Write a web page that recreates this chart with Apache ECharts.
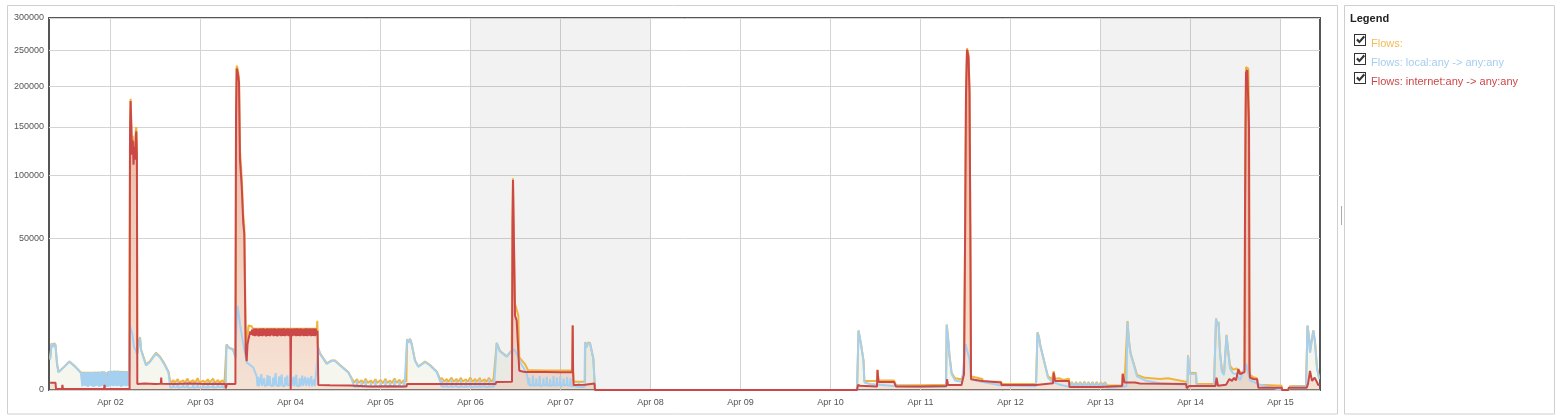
<!DOCTYPE html>
<html>
<head>
<meta charset="utf-8">
<script src="https://cdn.jsdelivr.net/npm/echarts@6/dist/echarts.min.js"></script>
<style>
html,body{margin:0;padding:0;background:#fff;}
#chart{width:1561px;height:420px;}
</style>
</head>
<body>
<div id="chart"></div>
<script>
// ---- data (x = hours since Apr 01 00:00, value = flows) ----
const seriesNames = ['Flows:', 'Flows: local:any -> any:any', 'Flows: internet:any -> any:any'];
const yTickValues = [0, 50000, 100000, 150000, 200000, 250000, 300000];
const dayTickHours = [24, 48, 72, 96, 120, 144, 168, 192, 216, 240, 264, 288, 312, 336];
const weekendRanges = [[120, 168], [288, 336]];
const xRange = [7.6, 346.53];

const internetData = [
[7.9,117],[9.33,117],[9.47,2],[11.07,2],[11.17,55],[11.33,2],[22.27,2],[22.4,60],[22.53,2],[29.09,2],
[29.2,140000],[29.36,181000],[29.55,150000],[29.73,120000],[29.95,135000],[30.13,110000],[30.35,128000],[30.53,115000],[30.75,140000],[30.88,145000],[31.04,118000],[31.15,80],
[33.2,90],[35.87,75],[37.41,85],[37.52,330],[37.63,85],[41.2,80],[45.2,90],[49.2,80],[53.2,85],[54.61,80],[54.75,5],[55.01,79],[57.31,79],
[57.47,160000],[57.65,224000],[57.87,220000],[58.08,222000],[58.27,205000],[58.53,115000],[58.99,90000],[59.41,60000],[59.68,53000],[59.87,20000],[60.05,3300],[60.32,1800],[60.53,4500],[60.8,5600],
[61,6000],[61.25,7400],[61.5,6600],[61.75,7900],[62,6400],[62.25,8150],[62.5,6300],[62.75,8200],[63,6400],[63.25,8100],[63.5,6250],[63.75,8200],[64,6350],[64.25,8150],[64.5,6300],[64.75,8250],[65,6400],[65.25,8100],[65.5,6250],[65.75,8200],[66,6350],[66.25,8150],[66.5,6300],[66.75,8200],[67,6450],[67.25,8150],[67.5,6300],[67.75,8250],[68,6350],[68.25,8100],[68.5,6250],[68.75,8200],[69,6400],[69.25,8150],[69.5,6300],[69.75,8200],[70,6350],[70.25,8250],[70.5,6300],[70.75,8100],[71,6400],[71.25,8200],[71.5,6300],[71.75,8150],[71.95,7000],[72.05,0],[72.15,7000],[72.25,8200],[72.5,6300],[72.75,8150],[73,6400],[73.25,8200],[73.5,6300],[73.75,8250],[74,6350],[74.25,8150],[74.5,6300],[74.75,8200],[75,6400],[75.25,8100],[75.5,6300],[75.75,8200],[76,6350],[76.25,8250],[76.5,6300],[76.75,8150],[77,6400],[77.25,8200],[77.5,6300],[77.75,8150],[78,6350],[78.25,8200],[78.5,6300],[78.75,8150],[79,6500],[79.2,7600],
[79.41,55],[82.53,50],[87.87,45],[93.2,28],[98.53,30],[102.93,25],[103.07,79],[109.2,75],[117.2,79],[126.67,75],[126.88,140],[131.07,150],
[131.2,60000],[131.33,95700],[131.73,95000],[131.87,12000],[132.32,10400],[132.75,10000],[133.01,800],[134.53,710],[139.87,700],[143.87,690],[147.15,700],[147.25,9000],[147.36,700],[147.49,55],[150.53,60],[150.67,90],[153.07,90],[153.2,0],
[223.07,0],[223.33,55],[223.87,40],[228.4,25],[228.53,860],[228.8,140],[232.93,140],[233.47,25],[240.05,25],[240.29,35],[246.93,35],[247.07,250],[247.33,55],[250.93,55],[251.6,540],
[251.87,44000],[252.13,190000],[252.4,251000],[252.8,240000],[253.07,192000],[253.28,60000],[253.47,250],[256.53,177],[256.67,120],[261.47,120],[261.6,55],[270.8,55],[271.07,100],[275.33,100],[275.52,656],[275.87,177],[279.6,177],[279.73,20],[287.81,20],[287.95,35],[293.79,35],[293.92,560],[294.4,120],[297.2,120],[298.53,90],[310.8,80],[310.99,7],[311.33,10],[311.6,35],[318.67,35],[318.93,330],[319.33,40],[321.47,60],[322.37,265],[323.07,180],[323.6,320],[324.13,200],[324.75,940],[325.2,550],[325.73,450],[326.4,700],
[326.53,65000],[326.67,150000],[326.8,218000],[327.15,222000],[327.41,220000],[327.6,150000],[327.73,800],[327.87,330],[328.75,265],[329.73,250],[330.08,12],[336.32,12],[336.4,0],[338.08,0],[338.19,12],[342.99,12],[343.33,80],[343.87,790],[344.4,180],[345.12,330],[346.08,55],[346.5,55]
];

const localData = [
[7.9,2000],[8.3,4600],[8.7,4000],[8.97,4700],[9.33,4300],[9.73,1500],[10.11,680],[11.6,1150],[13.04,1750],[14.53,1200],[16.08,660],
[16.5,30],[16.75,650],[17,40],[17.25,680],[17.5,30],[17.75,690],[18,20],[18.25,670],[18.5,40],[18.75,700],[19,30],[19.25,690],[19.5,20],[19.75,710],[20,30],[20.25,680],[20.5,40],[20.75,720],[21,20],[21.25,700],[21.5,30],[21.75,760],[22,40],[22.25,740],[22.5,30],[22.75,700],[23,20],[23.15,120],[23.3,20],[23.5,780],[23.75,30],[24,800],[24.25,40],[24.5,770],[24.75,30],[25,820],[25.25,40],[25.5,760],[25.75,30],[26,790],[26.25,40],[26.5,750],[26.75,20],[27,760],[27.25,30],[27.5,740],[27.75,40],[28,750],[28.25,30],[28.5,730],[28.75,40],[29,720],
[29.2,9000],[29.47,8000],[29.87,6500],[30.27,4000],[30.67,3500],[31.07,2800],[31.33,3800],[31.87,6000],[32.13,3500],[33.47,1300],[34.53,1700],[36.13,2900],[37.2,2300],[38.27,1500],[39.47,660],[39.87,40],
[40,10],[40.6,20],[40.75,130],[40.9,15],[41.8,20],[41.95,160],[42.1,10],[43.2,20],[43.35,110],[43.5,15],[44.4,20],[44.55,170],[44.7,10],[45.9,15],[46.05,120],[46.2,10],[47.1,20],[47.25,150],[47.4,15],[48.6,10],[48.75,100],[48.9,20],[49.8,10],[49.95,140],[50.1,15],[51.2,20],[51.35,160],[51.5,10],[52.5,20],[52.65,120],[52.8,15],[53.7,20],[53.85,110],[54,10],[54.75,20],
[54.93,4400],[55.6,3800],[56.67,3500],[57.33,2300],[57.6,10000],[57.87,15400],[58.13,13000],[58.53,9400],[59.41,4600],[60.32,1650],[60.75,1840],[62.08,1100],[62.99,400],
[63.2,30],[63.4,380],[63.6,30],[64.1,40],[64.25,550],[64.4,40],[64.9,30],[65,300],[65.15,30],[65.7,60],[65.85,480],[66,40],[66.3,30],[66.45,420],[66.6,50],[67.2,30],[67.35,330],[67.5,30],[67.9,40],[68.05,620],[68.2,50],[68.8,30],[68.95,400],[69.1,30],[69.5,60],[69.65,520],[69.8,40],[70.4,30],[70.55,350],[70.7,40],[71,30],[71.15,460],[71.3,40],[71.9,60],[72.05,580],[72.2,30],[72.7,40],[72.85,380],[73,30],[73.4,60],[73.55,500],[73.7,40],[74.3,30],[74.45,300],[74.6,30],[75,50],[75.15,450],[75.3,40],[75.8,30],[75.95,380],[76.1,40],[76.6,60],[76.75,320],[76.9,30],[77.4,40],[77.55,420],[77.7,30],[78.2,50],[78.35,260],[78.5,30],[79,30],
[79.41,3900],[79.87,2800],[81.65,1480],[83.01,1840],[83.87,1840],[85.2,1300],[87.41,660],[88.32,250],
[89,20],[89.6,25],[89.75,200],[89.9,20],[90.8,30],[90.95,150],[91.1,20],[91.9,25],[92.05,220],[92.2,20],[93.3,30],[93.45,130],[93.6,20],[94.5,20],[94.65,190],[94.8,25],[95.9,20],[96.05,160],[96.2,20],[97.2,30],[97.35,210],[97.5,20],[98.4,20],[98.55,140],[98.7,25],[99.6,20],[99.75,230],[99.9,20],[100.9,30],[101.05,170],[101.2,20],[102.1,20],[102.25,150],[102.4,20],[102.93,30],
[103.07,5500],[103.47,4800],[103.87,5600],[104.27,4700],[105.2,1840],[106.08,1160],[107.87,1700],[109.2,1300],[110.99,700],[111.87,180],
[112.3,20],[112.45,220],[112.6,20],[113.5,30],[113.65,170],[113.8,20],[114.8,25],[114.95,260],[115.1,20],[116.1,30],[116.25,190],[116.4,20],[117.3,20],[117.45,240],[117.6,25],[118.6,20],[118.75,160],[118.9,20],[119.8,30],[119.95,250],[120.1,20],[121.1,20],[121.25,180],[121.4,25],[122.3,20],[122.45,230],[122.6,20],[123.6,30],[123.75,170],[123.9,20],[124.8,20],[124.95,250],[125.1,25],[126,20],[126.15,190],[126.3,20],[126.8,30],
[126.99,4700],[127.87,3200],[129.65,2390],[130.99,3300],[131.6,3600],[132.32,2840],[133.47,1500],[134.99,600],
[135.5,50],[135.65,320],[135.8,40],[136.5,60],[136.65,450],[136.8,40],[137.4,50],[137.55,280],[137.7,40],[138.3,60],[138.45,420],[138.6,30],[139.3,50],[139.45,300],[139.6,40],[140.2,60],[140.35,380],[140.5,40],[141.1,50],[141.25,260],[141.4,30],[142,60],[142.15,430],[142.3,40],[142.9,50],[143.05,330],[143.2,40],[143.8,60],[143.95,400],[144.1,30],[144.7,50],[144.85,280],[145,40],[145.6,60],[145.75,360],[145.9,40],[146.5,50],[146.65,300],[146.8,30],[147.5,40],[148,20],[148.7,20],[148.85,120],[149,20],[150.4,20],
[150.53,4900],[150.93,3900],[151.33,4800],[151.87,4700],[152.75,2100],[153.07,2000],[153.2,0],[223.07,0],
[223.47,7600],[223.81,7800],[224.13,4500],[224.48,4800],[224.8,1800],[225.04,120],[226.53,80],[229.2,60],[231.87,40],[239.87,20],[246.8,20],
[246.99,9200],[247.33,6000],[247.73,2500],[248.29,560],[249.2,200],[251.07,150],[252,4600],[253.07,2000],[253.47,300],[254.53,200],[261.2,50],[270.8,30],[271.07,30],
[271.2,7100],[271.6,6000],[271.87,4500],[272.93,1840],[274,320],[275.07,150],[277.2,60],[279.87,20],
[280.4,120],[280.9,10],[281.5,120],[282,10],[282.6,120],[283.1,10],[283.7,130],[284.2,10],[284.8,120],[285.3,10],[285.9,120],[286.4,10],[287,120],[287.5,10],[288.1,110],[288.6,10],[289.2,110],[289.7,10],
[293.2,20],[294.93,30],[295.2,10100],[295.6,5000],[296,2900],[296.4,2800],[296.93,1300],[297.73,400],[299.87,200],[303.87,100],[310.53,60],[311.2,60],[311.33,2500],[311.73,560],[313.47,560],[313.6,50],[318.27,40],
[318.8,11000],[319.2,9000],[319.47,10000],[319.87,3000],[320.4,700],[320.93,500],[321.6,6500],[322,3500],[322.53,1000],[323.33,600],[324.32,560],[325.2,200],[326.8,1500],[327.87,200],[330.53,60],[336.4,0],[338,0],[338.53,20],[342.8,30],
[343.2,8975],[343.6,6000],[343.87,3000],[344.27,5000],[344.75,7600],[345.2,5000],[345.73,1000],[346.27,300],[346.5,300]
];

const flowsData = [
[7.9,2100],[8.3,4700],[8.7,4100],[8.97,4800],[9.33,4400],[9.73,1550],[10.11,700],[11.6,1160],[13.04,1760],[14.53,1210],[16.08,660],[16.5,620],[20,640],[22.5,660],[23,120],[23.4,700],[26,720],[29,680],
[29.2,145000],[29.36,184000],[29.55,155000],[29.73,125000],[29.95,140000],[30.13,118000],[30.35,133000],[30.53,122000],[30.75,146000],[30.88,150000],[31.04,125000],[31.15,2900],[31.33,3900],[31.87,6100],[32.13,3600],[33.47,1400],[34.53,1800],[36.13,3000],[37.2,2400],[38.27,1600],[39.47,720],[39.87,200],
[40.3,110],[40.75,220],[41.1,110],[41.95,260],[42.3,120],[43.35,200],[43.8,110],[44.55,280],[45,120],[46.05,210],[46.5,110],[47.25,300],[47.7,120],[48.75,190],[49.2,110],[49.95,250],[50.4,120],[51.35,280],[51.8,110],[52.65,220],[53.1,120],[53.85,200],[54.4,110],[54.75,60],
[54.93,4500],[55.6,3900],[56.67,3600],[57.33,2400],[57.47,165000],[57.65,228000],[57.87,225000],[58.08,226000],[58.27,212000],[58.53,125000],[58.99,98000],[59.41,66000],[59.68,58000],[59.87,26000],[60.05,7000],[60.32,4000],[60.53,6500],[60.8,9000],[61.2,8700],[61.6,8800],[62,8100],[79,8100],
[79.15,10400],[79.3,4000],[79.41,4000],[79.87,2900],[81.65,1550],[83.01,1900],[83.87,1900],[85.2,1350],[87.41,700],[88.32,300],
[89,120],[89.75,260],[90.2,110],[90.95,210],[91.4,100],[92.05,280],[92.6,110],[93.45,190],[93.9,100],[94.65,250],[95.1,110],[96.05,220],[96.6,100],[97.35,270],[97.8,110],[98.55,200],[99,100],[99.75,290],[100.3,110],[101.05,230],[101.5,100],[102.25,210],[102.9,150],
[103.07,5600],[103.47,4900],[103.87,5700],[104.27,4800],[105.2,1900],[106.08,1200],[107.87,1750],[109.2,1350],[110.99,750],[111.87,260],
[112.45,300],[112.9,150],[113.65,260],[114.1,140],[114.95,330],[115.5,150],[116.25,270],[116.7,140],[117.45,320],[117.9,150],[118.75,250],[119.2,140],[119.95,330],[120.5,150],[121.25,260],[121.7,140],[122.45,310],[122.9,150],[123.75,250],[124.2,140],[124.95,320],[125.5,150],[126.15,270],[126.6,200],
[126.99,4800],[127.87,3300],[129.65,2450],[130.99,3400],[131.2,62000],[131.33,97300],[131.73,97000],[131.87,16100],[132.32,14000],[132.75,12000],[133.01,2300],[134.53,1450],[135.4,800],[136,850],[140,820],[144,830],[147.1,820],[147.25,9100],[147.36,800],[147.49,150],[150.53,150],
[150.6,5000],[150.93,4000],[151.33,4900],[151.87,4800],[152.75,2200],[153.07,2100],[153.2,0],[223.07,0],
[223.47,7700],[223.81,7900],[224.13,4600],[224.48,4900],[224.8,1900],[225.04,180],[228.4,180],[228.53,900],[228.8,200],[232.93,200],[233.47,50],[240.05,50],[240.29,60],[246.8,60],
[246.99,9300],[247.33,6100],[247.73,2600],[248.29,650],[249.2,300],[250.93,250],[251.6,600],[251.87,46000],[252.13,195000],[252.4,253000],[252.8,245000],[253.07,196000],[253.28,62000],[253.47,400],[254.53,350],[256.53,260],[256.67,150],[261.47,150],[261.6,80],[270.8,80],[271.07,100],
[271.2,7200],[271.6,6100],[271.87,4600],[272.93,1900],[274,400],[275.07,250],[275.52,760],[275.87,270],[277,300],[278,220],[279.6,280],[279.73,30],
[280.4,140],[280.9,30],[281.5,140],[282,30],[282.6,140],[283.1,30],[283.7,150],[284.2,30],[284.8,140],[285.3,30],[285.9,140],[286.4,30],[287,140],[287.5,30],[288.1,130],[288.6,45],[289.2,130],[289.7,45],[293.79,45],
[293.92,600],[294.4,150],[294.93,150],[295.2,10300],[295.6,5200],[296,3000],[296.4,2900],[296.93,1400],[297.73,500],[299.87,320],[303.87,260],[306,300],[310.8,150],[311.2,80],[311.33,2600],[311.73,620],[313.47,620],[313.6,80],[318.27,80],
[318.8,11100],[319.2,9100],[319.47,10100],[319.87,3100],[320.4,750],[320.93,560],[321.6,6600],[322,3600],[322.53,1300],[323.33,900],[324.32,1000],[324.75,1100],[325.73,600],[326.4,900],
[326.53,70000],[326.67,160000],[326.8,226000],[327.15,228000],[327.41,224000],[327.6,160000],[327.73,1200],[327.87,500],[328.75,350],[329.73,300],[330.08,60],[336.32,40],[336.4,0],[338.08,0],[338.53,30],[342.8,40],
[343.2,9000],[343.6,6100],[343.87,3200],[344.27,5100],[344.75,7700],[345.2,5100],[345.73,1100],[346.27,350],[346.5,350]
];

// ---- chart ----
const sq = arr => arr.map(p => [p[0], Math.sqrt(p[1])]);
const axisFont = {fontFamily: 'Liberation Sans', fontSize: 9, color: '#555'};
const colors = {flows: '#f0b43c', local: '#a6d0f0', internet: '#cc4848'};
const legendTextColors = ['#f2bb55', '#a6cdee', '#cc4848'];
const checkIcon = 'path://M0,0H12V12H0Z M1,1V11H11V1Z M2.2,6.2L3.8,4.6L5.4,6.6L9.6,1.6L11,3.2L5.4,9.6Z';

const chart = echarts.init(document.getElementById('chart'), null, {renderer: 'canvas'});
chart.setOption({
  animation: false,
  backgroundColor: '#fff',
  title: {
    text: 'Legend', left: 1350, top: 13, padding: 0,
    textStyle: {fontFamily: 'Liberation Sans', fontSize: 11, fontWeight: 'bold', color: '#222'}
  },
  legend: {
    orient: 'vertical', left: 1354, top: 34, padding: 0,
    itemWidth: 12, itemHeight: 12, itemGap: 4,
    icon: checkIcon, selectedMode: false,
    itemStyle: {color: '#333', borderWidth: 0, opacity: 1},
    formatter: name => '{s|}{t' + seriesNames.indexOf(name) + '|' + name + '}',
    textStyle: {
      fontFamily: 'Liberation Sans', fontSize: 11,
      rich: {
        s: {height: 18, width: 0},
        t0: {verticalAlign: 'bottom', lineHeight: 12, fontFamily: 'Liberation Sans', fontSize: 11, color: legendTextColors[0]},
        t1: {verticalAlign: 'bottom', lineHeight: 12, fontFamily: 'Liberation Sans', fontSize: 11, color: legendTextColors[1]},
        t2: {verticalAlign: 'bottom', lineHeight: 12, fontFamily: 'Liberation Sans', fontSize: 11, color: legendTextColors[2]}
      }
    },
    data: seriesNames.map((n, i) => ({name: n, textStyle: {color: legendTextColors[i]}}))
  },
  graphic: [
    {type: 'rect', z: -10, silent: true, shape: {x: 7.5, y: 5.5, width: 1330, height: 408.5}, style: {fill: 'none', stroke: '#cfcfcf', lineWidth: 1}},
    {type: 'rect', z: -10, silent: true, shape: {x: 1344.5, y: 5.5, width: 210, height: 408.5}, style: {fill: 'none', stroke: '#cfcfcf', lineWidth: 1}},
    {type: 'line', z: -10, silent: true, shape: {x1: 1341.5, y1: 206, x2: 1341.5, y2: 225}, style: {stroke: '#aaa', lineWidth: 1}}
  ],
  grid: {left: 49, top: 18, width: 1271, height: 372, show: true, borderColor: '#555', borderWidth: 2, backgroundColor: 'transparent'},
  xAxis: {
    type: 'value', min: xRange[0], max: xRange[1],
    axisLine: {show: false},
    axisTick: {show: false, customValues: dayTickHours},
    axisLabel: Object.assign({customValues: dayTickHours, margin: 8,
      formatter: v => 'Apr ' + String(Math.round(v / 24) + 1).padStart(2, '0')}, axisFont),
    splitLine: {show: true, lineStyle: {color: '#d4d4d4', width: 1}}
  },
  yAxis: {
    type: 'value', min: 0, max: Math.sqrt(yTickValues[yTickValues.length - 1]),
    axisLine: {show: false},
    axisTick: {show: false, customValues: yTickValues.map(Math.sqrt)},
    axisLabel: Object.assign({customValues: yTickValues.map(Math.sqrt), margin: 5,
      formatter: v => String(Math.round(v * v))}, axisFont),
    splitLine: {show: true, lineStyle: {color: '#d4d4d4', width: 1}}
  },
  series: [
    {
      name: seriesNames[0], type: 'line', data: sq(flowsData), symbol: 'none', showSymbol: false,
      lineStyle: {color: colors.flows, width: 2}, itemStyle: {color: colors.flows},
      areaStyle: {color: 'rgba(210,205,140,0.2)'},
      markArea: {silent: true, itemStyle: {color: 'rgba(0,0,0,0.05)'},
        data: weekendRanges.map(r => [{xAxis: r[0]}, {xAxis: r[1]}])}
    },
    {
      name: seriesNames[1], type: 'line', data: sq(localData), symbol: 'none', showSymbol: false,
      lineStyle: {color: colors.local, width: 2}, itemStyle: {color: colors.local},
      areaStyle: {color: 'rgba(168,208,240,0.06)'}
    },
    {
      name: seriesNames[2], type: 'line', data: sq(internetData), symbol: 'none', showSymbol: false,
      lineStyle: {color: colors.internet, width: 2}, itemStyle: {color: colors.internet},
      areaStyle: {color: {type: 'linear', x: 0, y: 0, x2: 0, y2: 1, colorStops: [
        {offset: 0, color: 'rgba(222,110,80,0.8)'}, {offset: 1, color: 'rgba(235,150,120,0.3)'}]}}
    }
  ]
});
</script>
</body>
</html>
